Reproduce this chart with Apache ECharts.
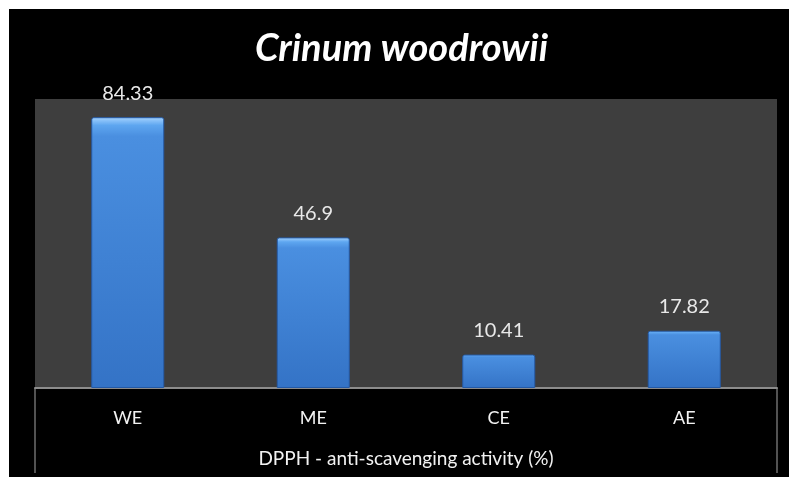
<!DOCTYPE html>
<html>
<head>
<meta charset="utf-8">
<script src="https://cdn.jsdelivr.net/npm/echarts@6/dist/echarts.min.js"></script>
<style>
  html, body { margin: 0; padding: 0; background: #ffffff; }
  #wrap { position: relative; width: 789px; height: 477px; background: #ffffff; overflow: hidden; }
  #chart { position: absolute; left: 9px; top: 9px; width: 780px; height: 468px; }
</style>
</head>
<body>
<div id="wrap"><div id="chart"></div></div>
<script>
// Extract categories and DPPH activity values
const categories = ['WE', 'ME', 'CE', 'AE'];
const activity = [84.33, 46.9, 10.41, 17.82];
const titleText = 'Crinum woodrowii';
const axisTitle = 'DPPH - anti-scavenging activity (%)';

const GRID = { left: 26, right: 12, top: 90, bottom: 89 };
const W = 780, H = 468;
const FONT = 'Lato, "Open Sans", sans-serif';

const chart = echarts.init(document.getElementById('chart'));

const barColor = new echarts.graphic.LinearGradient(0, 0, 0, 1, [
  { offset: 0, color: '#a6d4ff' },
  { offset: 0.03, color: '#5ea6f0' },
  { offset: 0.07, color: '#4a8fe0' },
  { offset: 1, color: '#3473c6' }
]);

// Frame lines below the plot area (table-style box around the category row)
const baseY = H - GRID.bottom;
const frameColor = '#6e6e6e';
const frame = [
  { type: 'line', shape: { x1: GRID.left, y1: baseY, x2: GRID.left, y2: H - 4 }, style: { stroke: frameColor, lineWidth: 1.5 } },
  { type: 'line', shape: { x1: W - GRID.right, y1: baseY, x2: W - GRID.right, y2: H - 4 }, style: { stroke: frameColor, lineWidth: 1.5 } }
];

chart.setOption({
  backgroundColor: '#000000',
  animation: false,
  title: {
    text: titleText,
    left: 241,
    top: 16,
    textStyle: { color: '#ffffff', fontFamily: FONT, fontStyle: 'italic', fontWeight: 'bold', fontSize: 38 }
  },
  grid: {
    left: GRID.left, right: GRID.right, top: GRID.top, bottom: GRID.bottom,
    show: true, backgroundColor: '#3e3e3e', borderWidth: 0
  },
  xAxis: {
    type: 'category',
    data: categories,
    name: axisTitle,
    nameLocation: 'middle',
    nameGap: 61,
    nameTextStyle: { color: '#f2f2f2', fontFamily: FONT, fontSize: 19 },
    axisLine: { show: true, lineStyle: { color: '#8c8c8c', width: 2 } },
    axisTick: { show: false },
    axisLabel: { color: '#f2f2f2', fontFamily: FONT, fontSize: 18, margin: 21 }
  },
  yAxis: {
    type: 'value',
    min: 0,
    max: 90,
    show: false,
    splitLine: { show: false }
  },
  series: [{
    type: 'bar',
    data: activity,
    barWidth: 73,
    itemStyle: {
      color: barColor,
      borderColor: '#245aa6',
      borderWidth: 1,
      borderRadius: [2, 2, 0, 0]
    },
    label: {
      show: true,
      position: 'top',
      distance: 14,
      color: '#e8e8e8',
      fontFamily: FONT,
      fontSize: 20,
      formatter: p => String(activity[p.dataIndex])
    }
  }],
  graphic: frame
});
</script>
</body>
</html>
